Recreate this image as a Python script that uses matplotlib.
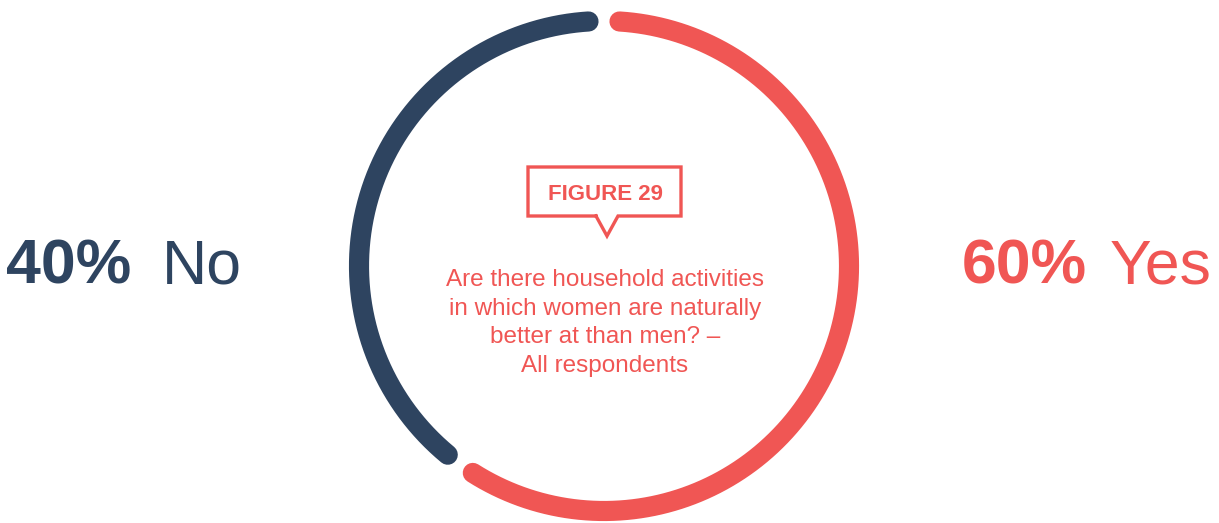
import numpy as np
import matplotlib
matplotlib.use("Agg")
import matplotlib.pyplot as plt

# Data
categories = ["Yes", "No"]
values = [60, 40]
colors = ["#F05654", "#2E4460"]
figure_label = "FIGURE 29"
question = "Are there household activities\nin which women are naturally\nbetter at than men? \u2013\nAll respondents"

W, H = 1219, 523
fig = plt.figure(figsize=(W / 100, H / 100), dpi=100)
ax = fig.add_axes([0, 0, 1, 1])
ax.set_xlim(0, W)
ax.set_ylim(H, 0)
ax.axis("off")

cx, cy, r = 604, 266, 245
half_gap = np.degrees(15.5 / r)
total = sum(values)
start = 0.0
for v, c in zip(values, colors):
    a0 = start + half_gap
    a1 = start + v / total * 360 - half_gap
    th = np.radians(np.linspace(a0, a1, 400))
    ax.plot(cx + r * np.sin(th), cy - r * np.cos(th), color=c, lw=14.5,
            solid_capstyle="round")
    start += v / total * 360

font = "Liberation Sans"
red, navy = colors[0], colors[1]

# Left / right labels
ax.text(6, 284, f"{values[1]}%", color=navy, fontsize=45, fontweight="bold",
        family=font, ha="left", va="baseline")
ax.text(162, 284, categories[1], color=navy, fontsize=45,
        family=font, ha="left", va="baseline")
ax.text(962, 284, f"{values[0]}%", color=red, fontsize=45, fontweight="bold",
        family=font, ha="left", va="baseline")
ax.text(1110, 284, categories[0], color=red, fontsize=45,
        family=font, ha="left", va="baseline")

# Callout box
bx0, bx1, by0, by1 = 528, 681, 167, 216
px0, px1, ptip = 596, 618, (607, 236)
xs = [px0, bx0, bx0, bx1, bx1, px1, ptip[0], px0]
ys = [by1, by1, by0, by0, by1, by1, ptip[1], by1]
ax.plot(xs, ys, color=red, lw=2.4, solid_joinstyle="miter")
ax.text(605, 200, figure_label, color=red, fontsize=16, fontweight="bold",
        family=font, ha="center", va="baseline")

ax.text(605, 323, question, color=red, fontsize=17.5, family=font,
        ha="center", va="center", linespacing=1.4)

fig.savefig("out.png", dpi=100)
